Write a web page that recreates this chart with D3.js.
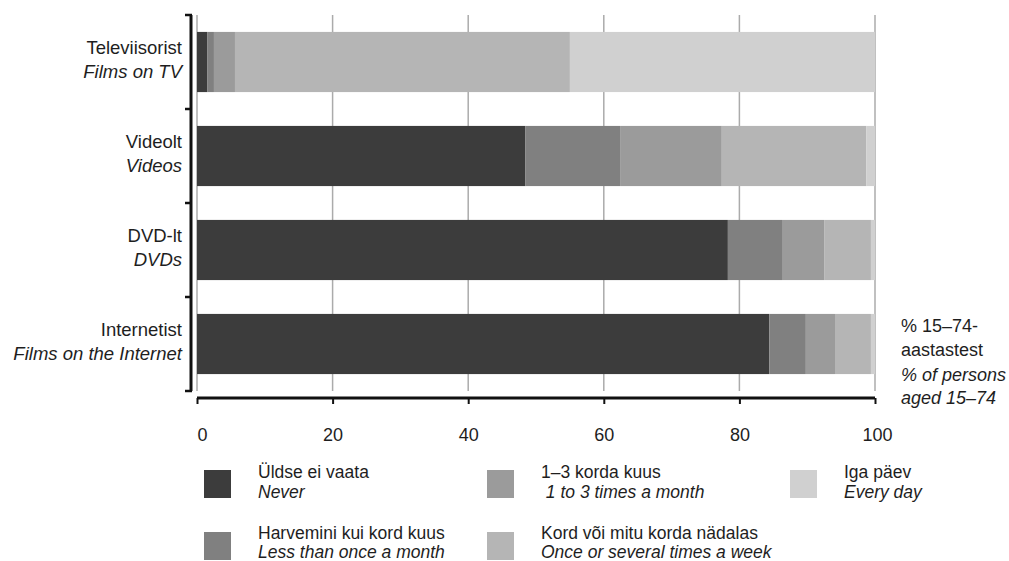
<!DOCTYPE html>
<html><head><meta charset="utf-8">
<script src="https://cdn.jsdelivr.net/npm/d3@7/dist/d3.min.js"></script>
<style>
body{margin:0;background:#fff;}
svg{display:block;font-family:"Liberation Sans",Arial,sans-serif;}
text{fill:#1e1e1e;white-space:pre;}
</style></head><body>
<svg id="chart" width="1009" height="561"></svg>
<script>
const categories = ["Televiisorist","Videolt","DVD-lt","Internetist"];
const categoriesEn = ["Films on TV","Videos","DVDs","Films on the Internet"];
const seriesNames = ["Üldse ei vaata","Harvemini kui kord kuus","1–3 korda kuus","Kord või mitu korda nädalas","Iga päev"];
const seriesNamesEn = ["Never","Less than once a month"," 1 to 3 times a month","Once or several times a week","Every day"];
const never   = [1.5, 48.4, 78.3, 84.4];
const less    = [1.0, 14.0, 8.1, 5.4];
const monthly = [3.1, 15.0, 6.1, 4.3];
const weekly  = [49.4, 21.3, 6.9, 5.3];
const daily   = [45.0, 1.3, 0.6, 0.6];
const xTicks = [0,20,40,60,80,100];
const colors = ["#3c3c3c","#808080","#9b9b9b","#b5b5b5","#d0d0d0"];
const unitLines = ["% 15–74-","aastastest","% of persons","aged 15–74"];

const svg = d3.select("#chart");
const x = d3.scaleLinear().domain([0,100]).range([197,875]);
const y = d3.scaleBand().domain(categories).range([15,391]).paddingInner(0.36).paddingOuter(0.18);

const seriesData = [never, less, monthly, weekly, daily];
const rows = categories.map((c,i)=>{const o={cat:c}; seriesNames.forEach((s,j)=>o[s]=seriesData[j][i]); return o;});
const stack = d3.stack().keys(seriesNames)(rows);

// gridlines
svg.append("g").selectAll("line").data(xTicks).join("line")
  .attr("x1",d=>x(d)).attr("x2",d=>x(d)).attr("y1",15).attr("y2",391)
  .attr("stroke","#ababab").attr("stroke-width",1.5);

// bars
svg.append("g").selectAll("g").data(stack).join("g")
  .attr("fill",(d,i)=>colors[i])
  .selectAll("rect").data(d=>d).join("rect")
  .attr("x",d=>x(d[0])).attr("width",d=>x(d[1])-x(d[0]))
  .attr("y",d=>y(d.data.cat)).attr("height",y.bandwidth());

// left bracket axis
const step = y.step();
const bounds = [15, 15+step, 15+2*step, 15+3*step, 391];
svg.append("line").attr("x1",191).attr("x2",191).attr("y1",15).attr("y2",391)
  .attr("stroke","#111").attr("stroke-width",3);
svg.append("g").selectAll("line").data(bounds).join("line")
  .attr("x1",185).attr("x2",192).attr("y1",d=>d).attr("y2",d=>d)
  .attr("stroke","#111").attr("stroke-width",2.5);

// category labels
const lab = svg.append("g").selectAll("g").data(categories).join("g");
lab.append("text").attr("x",182).attr("y",d=>y(d)+y.bandwidth()/2-8)
  .attr("text-anchor","end").attr("font-size",18.5).text(d=>d);
lab.append("text").attr("x",182).attr("y",(d,i)=>y(d)+y.bandwidth()/2+16)
  .attr("text-anchor","end").attr("font-size",18.5).attr("font-style","italic").text((d,i)=>categoriesEn[i]);

// bottom axis
const xa = svg.append("g").attr("transform","translate(0,398)")
  .call(d3.axisBottom(x).tickValues(xTicks).tickSize(6).tickPadding(24).tickFormat(d3.format("d")));
xa.select(".domain").attr("stroke","#111").attr("stroke-width",3).attr("d","M197,0H875");
xa.selectAll(".tick line").attr("stroke","#111").attr("stroke-width",2);
xa.selectAll(".tick text").attr("font-size",18).attr("font-family","Liberation Sans, Arial, sans-serif")
  .attr("fill","#1e1e1e").attr("dy","0.71em").attr("dx",d=>d===0?5:(d===100?2:0));

// unit note
svg.append("g").selectAll("text").data(unitLines).join("text")
  .attr("x",901).attr("y",(d,i)=>[332,356,381,404][i])
  .attr("font-size",18).attr("font-style",(d,i)=>i>=2?"italic":"normal").text(d=>d);

// legend
const colX = [204,487,790];
const rowY = [470,532];
const leg = svg.append("g").selectAll("g").data(seriesNames).join("g")
  .attr("transform",(d,i)=>`translate(${colX[Math.floor(i/2)]},${rowY[i%2]})`);
leg.append("rect").attr("width",27).attr("height",28).attr("fill",(d,i)=>colors[i]);
leg.append("text").attr("x",54).attr("y",(d,i)=>i%2?6.5:8).attr("font-size",17.5).text(d=>d);
leg.append("text").attr("x",54).attr("y",(d,i)=>i%2?25.5:28).attr("font-size",17.5).attr("font-style","italic").text((d,i)=>seriesNamesEn[i]);
</script>
</body></html>
